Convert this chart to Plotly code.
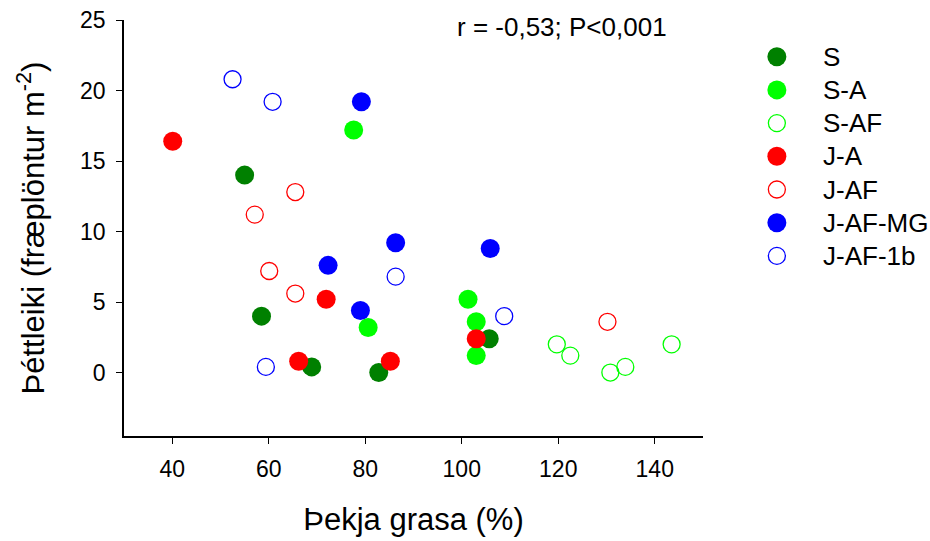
import plotly.graph_objects as go

# Grass cover (%) vs seedling density, by treatment
groups = ["S", "S-A", "S-AF", "J-A", "J-AF", "J-AF-MG", "J-AF-1b"]

S_x = [55.0, 58.5, 68.9, 82.8, 105.7]
S_y = [14.0, 4.0, 0.4, 0.0, 2.4]

SA_x = [77.6, 80.6, 101.3, 103.0, 103.0]
SA_y = [17.2, 3.2, 5.2, 3.6, 1.2]

SAF_x = [119.7, 122.5, 130.8, 133.9, 143.5]
SAF_y = [2.0, 1.2, 0.0, 0.4, 2.0]

JA_x = [40.1, 71.9, 66.2, 85.2, 103.0]
JA_y = [16.4, 5.2, 0.8, 0.8, 2.4]

JAF_x = [65.5, 57.1, 60.1, 65.5, 130.2]
JAF_y = [12.8, 11.2, 7.2, 5.6, 3.6]

JAFMG_x = [79.2, 86.3, 72.3, 79.0, 105.9]
JAFMG_y = [19.2, 9.2, 7.6, 4.4, 8.8]

JAF1b_x = [52.5, 60.8, 86.3, 59.4, 108.8]
JAF1b_y = [20.8, 19.2, 6.8, 0.4, 4.0]

x_ticks = [40, 60, 80, 100, 120, 140]
y_ticks = [0, 5, 10, 15, 20, 25]

FONT = "Arial, Liberation Sans, sans-serif"

colors = ["#008000", "#00FF00", "#00FF00", "#FF0000", "#FF0000", "#0000FF", "#0000FF"]
filled = [True, True, False, True, False, True, False]
xs_all = [S_x, SA_x, SAF_x, JA_x, JAF_x, JAFMG_x, JAF1b_x]
ys_all = [S_y, SA_y, SAF_y, JA_y, JAF_y, JAFMG_y, JAF1b_y]


def marker_style(color, solid):
    if solid:
        return dict(symbol="circle", size=19, color=color, line=dict(width=0))
    return dict(symbol="circle-open", size=17, color=color, line=dict(width=1.3, color=color))


# main plot spans the left part of the drawing area, the key sits to its right
W, H = 930, 541
ML, MR, MT, MB = 124, 0, 20, 105
plot_w = W - ML - MR
main_right = 703
main_dom = (main_right - ML) / plot_w

fig = go.Figure()
for name, xs, ys, color, solid in zip(groups, xs_all, ys_all, colors, filled):
    fig.add_trace(go.Scatter(x=xs, y=ys, mode="markers", name=name,
                             marker=marker_style(color, solid),
                             xaxis="x", yaxis="y", showlegend=False))

# key: one row per group on its own hidden axes
key_rows = list(range(len(groups)))
KEY_SYMBOL_X = 0.245
KEY_TEXT_X = 0.465
for i, name, color, solid in zip(key_rows, groups, colors, filled):
    fig.add_trace(go.Scatter(x=[KEY_SYMBOL_X], y=[i], mode="markers", name=name,
                             marker=marker_style(color, solid),
                             xaxis="x2", yaxis="y2", showlegend=False, hoverinfo="skip"))

annotations = [
    dict(text="r = -0,53; P<0,001", x=0.757 * main_dom, y=0.982,
         xref="paper", yref="paper", xanchor="center", yanchor="middle",
         showarrow=False, font=dict(size=26, family=FONT, color="black"))
]
for i, name in zip(key_rows, groups):
    annotations.append(dict(text=name, x=KEY_TEXT_X, y=i, xref="x2", yref="y2",
                            xanchor="left", yanchor="middle", showarrow=False,
                            font=dict(size=26, family=FONT, color="black")))

# row pitch of the key in pixels, first row centre
row_px, first_px = 33.2, 56.7
plot_h = H - MT - MB
key_top = (MT - first_px) / row_px
key_bottom = (MT + plot_h - first_px) / row_px

fig.update_layout(
    width=W,
    height=H,
    margin=dict(l=ML, r=MR, t=MT, b=MB, autoexpand=False),
    paper_bgcolor="white",
    plot_bgcolor="white",
    font=dict(family=FONT, color="black"),
    showlegend=False,
    annotations=annotations,
    xaxis=dict(
        domain=[0, main_dom],
        range=[30, 150],
        tickvals=x_ticks,
        ticks="outside", ticklen=6, tickwidth=1.2, tickcolor="black",
        showline=True, linecolor="black", linewidth=1.5,
        showgrid=False, zeroline=False,
        tickfont=dict(size=23, family=FONT),
        ticklabelstandoff=6,
        title=dict(text="Þekja grasa (%)", font=dict(size=31, family=FONT), standoff=27),
    ),
    yaxis=dict(
        domain=[0, 1],
        range=[-4.5, 25],
        tickvals=y_ticks,
        ticks="outside", ticklen=6, tickwidth=1.2, tickcolor="black",
        showline=True, linecolor="black", linewidth=1.5,
        showgrid=False, zeroline=False,
        tickfont=dict(size=23, family=FONT),
        ticklabelstandoff=6,
        title=dict(text="Þéttleiki (fræplöntur m<sup>-2</sup>)", font=dict(size=31, family=FONT), standoff=26),
    ),
    xaxis2=dict(domain=[main_dom + 0.03, 1], range=[0, 1], visible=False, fixedrange=True),
    yaxis2=dict(domain=[0, 1], range=[key_bottom, key_top], visible=False, fixedrange=True,
                anchor="x2"),
)
fig.update_layout(xaxis2_anchor="y2")

fig.write_html("out.html")
